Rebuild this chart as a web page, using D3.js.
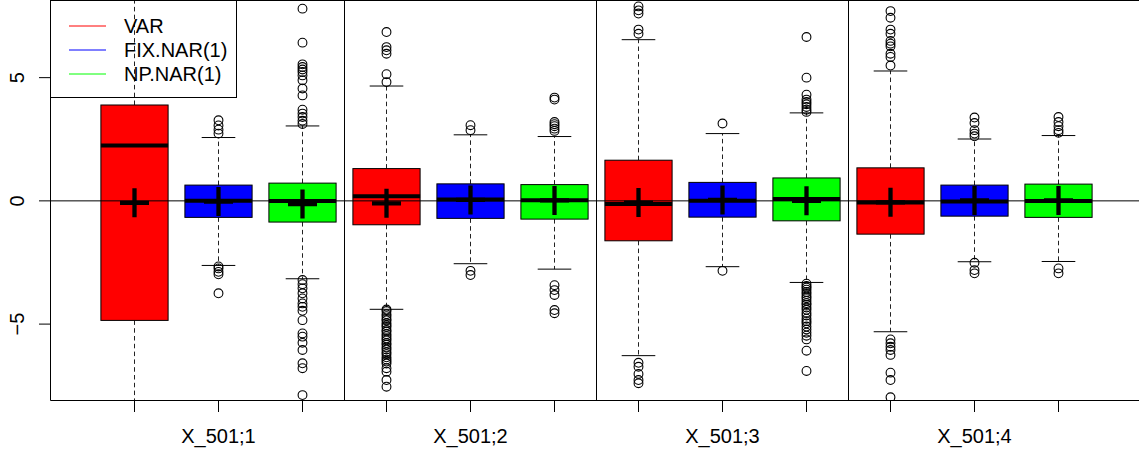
<!DOCTYPE html>
<html><head><meta charset="utf-8">
<script src="https://cdn.jsdelivr.net/npm/d3@7"></script>
<style>body{margin:0;background:#fff}svg{display:block;font-family:"Liberation Sans",Arial,Helvetica,sans-serif}</style>
</head><body><svg id="c" width="1139" height="455"></svg>
<script>
const categories = ["X_501;1","X_501;2","X_501;3","X_501;4"];
const seriesNames = ["VAR","FIX.NAR(1)","NP.NAR(1)"];
const seriesColors = ["#ff0000","#0000ff","#00ff00"];
const yTicks = [-5, 0, 5];

// VAR
const varLo   = [-9.6, -4.40, -6.28, -5.31];
const varQ1   = [-4.85, -0.97, -1.62, -1.35];
const varMed  = [2.25, 0.19, -0.13, -0.07];
const varQ3   = [3.89, 1.31, 1.65, 1.34];
const varHi   = [9.6, 4.66, 6.54, 5.27];
const varMean = [-0.08, -0.10, -0.07, -0.06];
const varOut = [
  [],
  [6.85, 6.24, 6.11, 5.97, 5.14, 4.82,
   -4.41, -4.47, -4.60, -4.68, -4.79, -4.85, -4.97, -5.05, -5.12, -5.24, -5.30, -5.41, -5.49, -5.58,
   -5.66, -5.77, -5.84, -5.95, -6.03, -6.14, -6.22, -6.35, -6.44, -6.52, -6.60, -6.79, -6.93, -7.27, -7.54],
  [7.89, 7.73, 7.60, 6.95, 6.78, -6.57, -6.73, -7.02, -7.27, -7.40],
  [7.70, 7.43, 6.95, 6.78, 6.49, 6.38, 6.27, 5.97, 5.84, 5.49,
   -5.62, -5.78, -5.92, -6.05, -6.25, -6.97, -7.27, -7.97]
];

// FIX.NAR(1)
const fixLo   = [-2.62, -2.55, -2.67, -2.47];
const fixQ1   = [-0.67, -0.71, -0.66, -0.62];
const fixMed  = [0.00, 0.06, 0.00, -0.03];
const fixQ3   = [0.64, 0.69, 0.75, 0.64];
const fixHi   = [2.57, 2.68, 2.73, 2.51];
const fixMean = [-0.03, 0.04, 0.04, 0.02];
const fixOut = [
  [3.27, 3.06, 2.89, 2.73, -2.66, -2.74, -2.88, -2.98, -3.75],
  [3.07, 2.87, -2.84, -3.01],
  [3.14, -2.84],
  [3.38, 3.16, 2.87, 2.73, 2.62, -2.51, -2.81, -2.94]
];

// NP.NAR(1)
const npLo   = [-3.16, -2.77, -3.31, -2.46];
const npQ1   = [-0.86, -0.74, -0.81, -0.67];
const npMed  = [-0.01, 0.03, 0.08, -0.01];
const npQ3   = [0.72, 0.66, 0.93, 0.68];
const npHi   = [3.04, 2.61, 3.57, 2.65];
const npMean = [-0.13, 0.02, 0.00, 0.02];
const npOut = [
  [7.80, 6.42, 5.54, 5.43, 5.33, 5.23, 5.09, 4.89, 4.56, 4.28, 3.70, 3.54, 3.40, 3.25, 3.12,
   -3.21, -3.38, -3.55, -3.75, -3.96, -4.16, -4.30, -4.46, -4.84, -5.38, -5.51, -5.76, -6.05, -6.59, -6.79, -7.88],
  [4.19, 4.11, 3.20, 3.11, 3.03, 2.93, 2.84, -3.42, -3.62, -3.82, -4.43, -4.56],
  [6.65, 5.00, 4.31, 4.11, 4.01, 3.92, 3.81, 3.70, 3.61,
   -3.36, -3.45, -3.52, -3.60, -3.70, -3.78, -3.88, -3.95, -4.05, -4.15, -4.22, -4.33, -4.42,
   -4.55, -4.65, -4.78, -4.88, -4.97, -5.10, -5.22, -5.35, -5.47, -5.62, -6.08, -6.90],
  [3.40, 3.20, 3.03, 2.87, 2.76, -2.74, -2.94]
];

const seriesData = [
  {lo: varLo, q1: varQ1, med: varMed, q3: varQ3, hi: varHi, mean: varMean, out: varOut},
  {lo: fixLo, q1: fixQ1, med: fixMed, q3: fixQ3, hi: fixHi, mean: fixMean, out: fixOut},
  {lo: npLo, q1: npQ1, med: npMed, q3: npQ3, hi: npHi, mean: npMean, out: npOut}
];

const boxes = [];
categories.forEach((c, g) => {
  seriesData.forEach((s, k) => {
    boxes.push({pos: g * 3 + k + 1, color: seriesColors[k],
      lo: s.lo[g], q1: s.q1[g], med: s.med[g], q3: s.q3[g], hi: s.hi[g], mean: s.mean[g], out: s.out[g]});
  });
});

const W = 1139, H = 455;
const plotL = 50.5, plotT = 0.5, plotB = 400.5, plotR = 1200;
const x = d3.scaleLinear().domain([0, 13.5]).range([50.5, 1184.5]);
const y = d3.scaleLinear().domain([-8.1, 8.13]).range([plotB, plotT]);
const bw = (x(1) - x(0)) * 0.8;

const svg = d3.select("#c");
svg.append("defs").append("clipPath").attr("id", "clip")
  .append("rect").attr("x", plotL).attr("y", plotT).attr("width", plotR - plotL).attr("height", plotB - plotT);

const plot = svg.append("g").attr("clip-path", "url(#clip)");

const bg = plot.selectAll("g.box").data(boxes).enter().append("g").attr("class", "box");
// whiskers
bg.append("line").attr("x1", d => x(d.pos)).attr("x2", d => x(d.pos))
  .attr("y1", d => y(d.q3)).attr("y2", d => y(d.hi))
  .attr("stroke", "#222").attr("stroke-dasharray", "4.5,3.3");
bg.append("line").attr("x1", d => x(d.pos)).attr("x2", d => x(d.pos))
  .attr("y1", d => y(d.q1)).attr("y2", d => y(d.lo))
  .attr("stroke", "#222").attr("stroke-dasharray", "4.5,3.3");
// caps
bg.append("line").attr("x1", d => x(d.pos) - bw / 4).attr("x2", d => x(d.pos) + bw / 4)
  .attr("y1", d => y(d.hi)).attr("y2", d => y(d.hi)).attr("stroke", "#000");
bg.append("line").attr("x1", d => x(d.pos) - bw / 4).attr("x2", d => x(d.pos) + bw / 4)
  .attr("y1", d => y(d.lo)).attr("y2", d => y(d.lo)).attr("stroke", "#000");
// box
bg.append("rect").attr("x", d => x(d.pos) - bw / 2).attr("width", bw)
  .attr("y", d => y(d.q3)).attr("height", d => y(d.q1) - y(d.q3))
  .attr("fill", d => d.color).attr("stroke", "#000").attr("stroke-width", 1);
// median
bg.append("line").attr("x1", d => x(d.pos) - bw / 2).attr("x2", d => x(d.pos) + bw / 2)
  .attr("y1", d => y(d.med)).attr("y2", d => y(d.med)).attr("stroke", "#000").attr("stroke-width", 4);
// outliers
bg.selectAll("circle").data(d => d.out.map(v => ({pos: d.pos, v}))).enter().append("circle")
  .attr("cx", d => x(d.pos)).attr("cy", d => y(d.v)).attr("r", 4.4)
  .attr("fill", "none").attr("stroke", "#000").attr("stroke-width", 1.1);

// zero line (drawn over boxes)
plot.append("line").attr("x1", plotL).attr("x2", plotR).attr("y1", y(0)).attr("y2", y(0))
  .attr("stroke", "#000").attr("stroke-width", 1);
// group separators
[3.5, 6.5, 9.5].forEach(p => {
  plot.append("line").attr("x1", x(p)).attr("x2", x(p)).attr("y1", plotT).attr("y2", plotB)
    .attr("stroke", "#000").attr("stroke-width", 1);
});

// mean plus
const ps = 14.5;
const mg = plot.append("g");
boxes.forEach(d => {
  mg.append("line").attr("x1", x(d.pos) - ps).attr("x2", x(d.pos) + ps)
    .attr("y1", y(d.mean)).attr("y2", y(d.mean))
    .attr("stroke", "#000").attr("stroke-width", 4.3);
  mg.append("line").attr("x1", x(d.pos)).attr("x2", x(d.pos))
    .attr("y1", y(d.mean) - ps).attr("y2", y(d.mean) + ps)
    .attr("stroke", "#000").attr("stroke-width", 4.3);
});

// frame (left, top, bottom)
svg.append("path").attr("d", `M${W + 5},${plotT}H${plotL}V${plotB}H${W + 5}`)
  .attr("fill", "none").attr("stroke", "#000").attr("stroke-width", 1);

// y axis
const ya = svg.append("g");
yTicks.forEach(t => {
  ya.append("line").attr("x1", plotL - 11.5).attr("x2", plotL).attr("y1", y(t)).attr("y2", y(t)).attr("stroke", "#000");
  ya.append("text").attr("transform", `translate(23.5,${y(t)}) rotate(-90)`)
    .attr("text-anchor", "middle").attr("font-size", 20).text(t < 0 ? "\u2212" + Math.abs(t) : t);
});

// x axis
const xa = svg.append("g");
d3.range(1, 13).forEach(p => {
  xa.append("line").attr("x1", x(p)).attr("x2", x(p)).attr("y1", plotB).attr("y2", plotB + 11.5).attr("stroke", "#000");
});
categories.forEach((c, g) => {
  xa.append("text").attr("x", x(g * 3 + 2)).attr("y", 443).attr("text-anchor", "middle")
    .attr("font-size", 20).text(c);
});

// legend
const lg = svg.append("g");
lg.append("rect").attr("x", plotL).attr("y", plotT).attr("width", 186).attr("height", 97)
  .attr("fill", "none").attr("stroke", "#000");
seriesNames.forEach((n, i) => {
  const ly = 26 + i * 24;
  lg.append("line").attr("x1", 69).attr("x2", 106).attr("y1", ly).attr("y2", ly).attr("stroke", seriesColors[i]);
  lg.append("text").attr("x", 124).attr("y", ly + 7.3).attr("font-size", 20).text(n);
});
</script></body></html>
